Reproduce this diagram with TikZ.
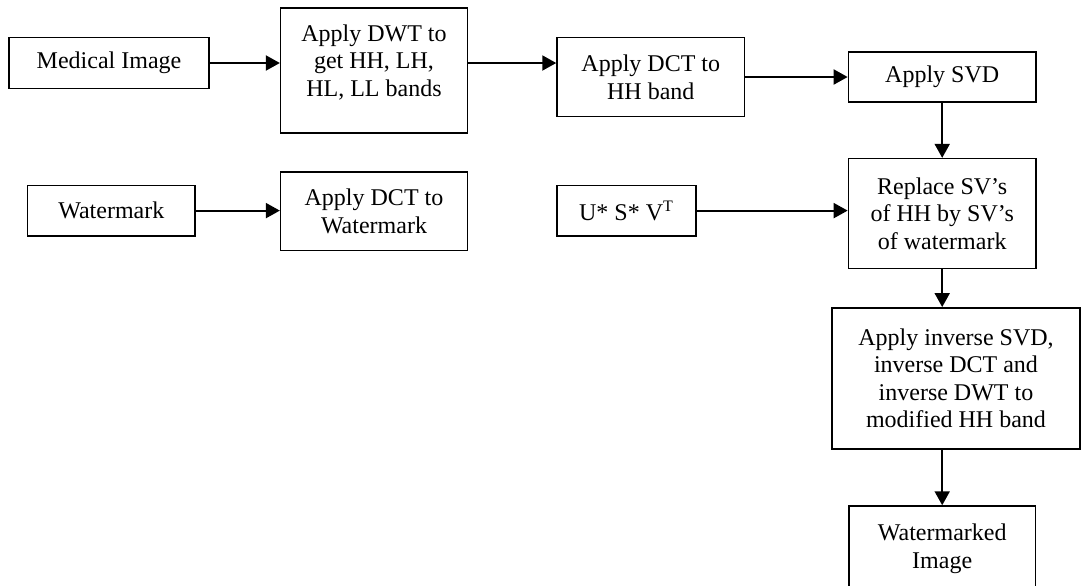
\documentclass[tikz,border=0pt]{standalone}
\usepackage{fontspec}
\setmainfont{Liberation Serif}
\usetikzlibrary{arrows.meta}

\begin{document}
\begin{tikzpicture}[x=0.5pt,y=-0.5pt,
  blk/.style={draw,line width=0.75pt,align=center,inner sep=2pt,
    font=\fontsize{12}{13.8}\selectfont},
  flow/.style={line width=1pt,-{Triangle[length=7pt,width=7.5pt]}}]
\useasboundingbox (0,0) rectangle (1081,585);

% upper row: the medical image
\node[blk,minimum width=100pt,minimum height=25.3pt] (med) at (109,63) {Medical Image};
\node[blk,minimum width=93.4pt,minimum height=62.5pt,text depth=10.3pt] (dwt) at (374,70.7)
  {Apply DWT to\\get HH, LH,\\HL, LL bands};
\node[blk,minimum width=93.8pt,minimum height=39.3pt] (dct) at (650.8,77) {Apply DCT to\\HH band};
\node[blk,minimum width=93.8pt,minimum height=25pt] (svd) at (942.2,77) {Apply SVD};

% lower row: the watermark
\node[blk,minimum width=83.7pt,minimum height=25.2pt] (wm) at (111.3,210.6) {Watermark};
\node[blk,minimum width=93.4pt,minimum height=39.2pt] (dctw) at (374,211.2) {Apply DCT to\\Watermark};
\node[blk,minimum width=69.5pt,minimum height=25.2pt] (usv) at (626.5,210.6) {U* S* V\textsuperscript{T}};
\node[blk,minimum width=93.8pt,minimum height=55pt] (rep) at (942.2,213.6)
  {Replace SV’s\\of HH by SV’s\\of watermark};

% right column, the last box runs off the page
\node[blk,minimum width=124pt,minimum height=70.5pt] (inv) at (956,378.3)
  {Apply inverse SVD,\\inverse DCT and\\inverse DWT to\\modified HH band};
\node[blk,minimum width=93.3pt,minimum height=43pt] (wmi) at (942.2,549) {Watermarked\\Image};

\draw[flow] (med.east) -- (med.east -| dwt.west);
\draw[flow] (dwt.east |- med.east) -- (dct.west |- med.east);
\draw[flow] (dct.east |- svd.west) -- (svd.west);
\draw[flow] (svd.south) -- (rep.north);
\draw[flow] (wm.east) -- (wm.east -| dctw.west);
\draw[flow] (usv.east) -- (usv.east -| rep.west);
\draw[flow] (rep.south) -- (rep.south |- inv.north);
\draw[flow] (inv.south -| wmi.north) -- (wmi.north);
\end{tikzpicture}
\end{document}
